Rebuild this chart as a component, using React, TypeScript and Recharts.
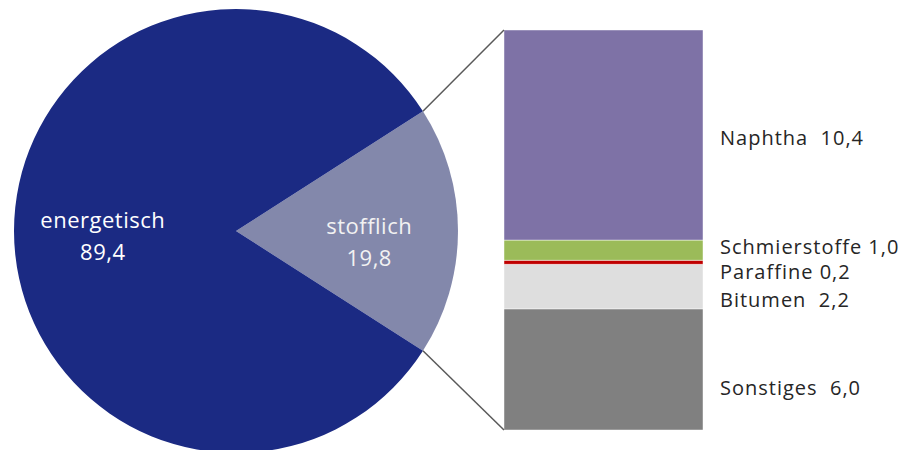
import { Bar, BarChart, Cell, LabelList, Pie, PieChart, XAxis, YAxis } from "recharts";

const W = 911;
const H = 450;
const FONT = "'Open Sans', sans-serif";

// pie: use of petroleum
const pieNames = ["stofflich", "energetisch"];
const pieValues = [19.8, 89.4];
const pieLabels = ["19,8", "89,4"];
const pieColors = ["#8388ab", "#1b2a83"];

// bar: breakdown of "stofflich", top to bottom
const barNames = ["Naphtha", "Schmierstoffe", "Paraffine", "Bitumen", "Sonstiges"];
const barValues = [10.4, 1.0, 0.2, 2.2, 6.0];
const barLabels = ["Naphtha  10,4", "Schmierstoffe 1,0", "Paraffine 0,2", "Bitumen  2,2", "Sonstiges  6,0"];
const barColors = ["#7e72a6", "#9bbb59", "#c00000", "#dedede", "#808080"];

// geometry (relative to the chart box, which sits inside the 8px body margin)
const OFF = 8;
const PIE_CX = 236 - OFF;
const PIE_CY = 231 - OFF;
const PIE_R = 222;
const BAR_LEFT = 504 - OFF;
const BAR_RIGHT = 703 - OFF;
const BAR_TOP = 30 - OFF;
const BAR_BOTTOM = 430 - OFF;

// label nudges (Excel places these a little off-centre)
const labelNudge: Record<string, number> = {
  Naphtha: 2,
  Schmierstoffe: -4,
  Paraffine: 9,
  Bitumen: 13,
  Sonstiges: 18,
};
const pieLabelNudge = [9, 3];

const pieTotal = pieValues.reduce((a, b) => a + b, 0);
const halfAngle = ((pieValues[0] / pieTotal) * 360) / 2;
const barTotal = barValues.reduce((a, b) => a + b, 0);

const pieData = pieNames.map((name, i) => ({ name, value: pieValues[i], label: pieLabels[i] }));
const barRow: Record<string, number | string> = { name: "stofflich" };
barNames.forEach((n, i) => {
  barRow[n] = barValues[i];
});
// recharts stacks from the bottom up
const stackOrder = barNames.map((_, i) => i).reverse();

const RAD = Math.PI / 180;

function PieLabel(props: any) {
  const { cx, cy, midAngle, outerRadius, payload, name, index } = props;
  const r = outerRadius * 0.6;
  const x = cx + r * Math.cos(-midAngle * RAD);
  const y = cy + r * Math.sin(-midAngle * RAD) + pieLabelNudge[index];
  const label = payload?.label ?? pieLabels[index];
  const fill = index === 0 ? "#f2f2f2" : "#ffffff";
  return (
    <g>
      <text
        x={x}
        y={y - 15}
        textAnchor="middle"
        dominantBaseline="central"
        fill={fill}
        fontFamily={FONT}
        fontSize={22}
        letterSpacing={0.5}
      >
        {payload?.name ?? name}
      </text>
      <text
        x={x}
        y={y + 17}
        textAnchor="middle"
        dominantBaseline="central"
        fill={fill}
        fontFamily={FONT}
        fontSize={22}
        letterSpacing={0.5}
      >
        {label}
      </text>
    </g>
  );
}

function makeBarLabel(idx: number) {
  return function BarLabel(props: any) {
    const { x, y, width, height } = props;
    const name = barNames[idx];
    const ty = Number(y) + Number(height) / 2 + labelNudge[name];
    return (
      <text
        x={Number(x) + Number(width) + 17}
        y={ty}
        dominantBaseline="central"
        fill="#262626"
        fontFamily={FONT}
        fontSize={20}
        letterSpacing={1}
        style={{ whiteSpace: "pre" }}
      >
        {barLabels[idx]}
      </text>
    );
  };
}

function Connectors() {
  const ux = PIE_CX + PIE_R * Math.cos(halfAngle * RAD);
  const uy = PIE_CY - PIE_R * Math.sin(halfAngle * RAD);
  const ly = PIE_CY + PIE_R * Math.sin(halfAngle * RAD);
  return (
    <svg
      width={W}
      height={H}
      style={{ position: "absolute", left: 0, top: 0, pointerEvents: "none" }}
    >
      <line x1={ux} y1={uy} x2={BAR_LEFT} y2={BAR_TOP} stroke="#595959" strokeWidth={1.5} />
      <line x1={ux} y1={ly} x2={BAR_LEFT} y2={BAR_BOTTOM} stroke="#595959" strokeWidth={1.5} />
    </svg>
  );
}

export default function App() {
  return (
    <div style={{ position: "relative", width: W, height: H, background: "#fff", fontFamily: FONT }}>
      <div style={{ position: "absolute", left: 0, top: 0 }}>
        <PieChart width={W} height={H} margin={{ top: 0, right: 0, bottom: 0, left: 0 }}>
          <Pie
            data={pieData}
            dataKey="value"
            nameKey="name"
            cx={PIE_CX}
            cy={PIE_CY}
            outerRadius={PIE_R}
            startAngle={halfAngle}
            endAngle={halfAngle - 360}
            stroke="none"
            label={PieLabel}
            labelLine={false}
            isAnimationActive={false}
          >
            {pieData.map((_, i) => (
              <Cell key={i} fill={pieColors[i]} />
            ))}
          </Pie>
        </PieChart>
      </div>
      <div style={{ position: "absolute", left: 0, top: 0 }}>
        <BarChart
          width={W}
          height={H}
          data={[barRow]}
          margin={{ top: BAR_TOP, right: W - BAR_RIGHT, bottom: H - BAR_BOTTOM, left: BAR_LEFT }}
          barCategoryGap={0}
        >
          <XAxis dataKey="name" hide />
          <YAxis hide domain={[0, barTotal]} />
          {stackOrder.map((i) => (
            <Bar
              key={barNames[i]}
              dataKey={barNames[i]}
              stackId="s"
              fill={barColors[i]}
              stroke="#ffffff"
              strokeOpacity={0.6}
              strokeWidth={0.75}
              isAnimationActive={false}
            >
              <LabelList dataKey={barNames[i]} content={makeBarLabel(i)} />
            </Bar>
          ))}
        </BarChart>
      </div>
      <Connectors />
    </div>
  );
}
